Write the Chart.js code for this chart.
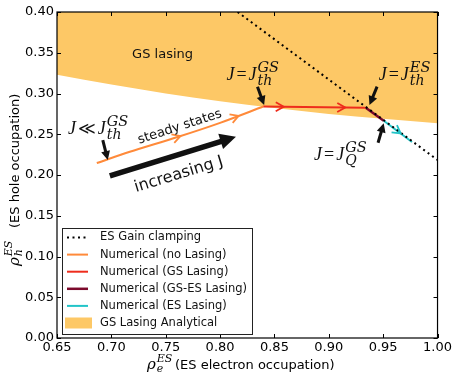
<!DOCTYPE html>
<html>
<head>
<meta charset="utf-8">
<script src="https://cdn.jsdelivr.net/npm/chart.js@4.4.0/dist/chart.umd.min.js"></script>
<style>
  body { margin: 0; background: #fff; }
  #wrap { width: 454px; height: 377px; }
</style>
</head>
<body>
<div id="wrap"><canvas id="grafico"></canvas></div>
<script>
// Eixos
const ticksX = [0.65, 0.70, 0.75, 0.80, 0.85, 0.90, 0.95, 1.00];
const ticksY = [0.00, 0.05, 0.10, 0.15, 0.20, 0.25, 0.30, 0.35, 0.40];

// Reta de clamping do ganho do ES
const clampingX = [0.8161, 1.00];
const clampingY = [0.400, 0.2184];

// Fronteira da regiao de laser do GS (analitico)
const fronteiraX = [0.65, 0.70, 0.75, 0.80, 0.85, 0.90, 0.95, 1.00];
const fronteiraY = [0.323, 0.311, 0.300, 0.2905, 0.2822, 0.2750, 0.2690, 0.2634];

// Estados estacionarios numericos
const semLaserX = [0.6866, 0.717, 0.7609, 0.80, 0.8397];
const semLaserY = [0.2147, 0.2285, 0.2466, 0.2640, 0.2840];
const laserGSX = [0.8397, 0.934];
const laserGSY = [0.2840, 0.2825];
const laserGSESX = [0.934, 0.9505];
const laserGSESY = [0.2825, 0.2665];
const laserESX = [0.9505, 0.9765];
const laserESY = [0.2665, 0.2405];

const pontos = (xs, ys) => xs.map((x, i) => ({ x: x, y: ys[i] }));

const SERIF = '"Liberation Serif", "DejaVu Serif", serif';
const SERIF_SCRIPT = '"DejaVu Serif", serif';
const SANS = '"DejaVu Sans", sans-serif';
const corFill = '#fdc866';

// escreve texto "matematico" simples (italico, sub/sobrescrito)
function escreveMath(ctx, x, y, tokens) {
    let pilha = 0;
    const x0 = x;
    tokens.forEach(tk => {
        if (tk.at !== undefined) x = x0 + tk.at;
        ctx.font = (tk.it ? 'italic ' : '') + tk.s + 'px ' + (tk.f || SERIF);
        ctx.fillText(tk.t, x, y + (tk.dy || 0));
        const w = ctx.measureText(tk.t).width + (tk.gap || 0);
        if (tk.stack) {
            pilha = w;
        } else {
            x += Math.max(w, pilha);
            pilha = 0;
        }
    });
    return x;
}

const J = (sub, sup, rel) => [
    { t: 'J', it: true, s: 18, gap: 2 },
    { t: rel, s: rel === '=' ? 18 : 17, f: rel === '=' ? SERIF : SANS, gap: 2 },
    { t: 'J', it: true, s: 18, gap: 1 },
    { t: sup, it: true, s: 14.5, f: SERIF_SCRIPT, dy: -8, stack: true },
    { t: sub, it: true, s: 14, f: SERIF_SCRIPT, dy: 5 }
];

// anotacoes em coordenadas de dados
const textosMath = [
    { x: 0.6601, y: 0.2503, tokens: J('th', 'GS', '\u226A') },
    { x: 0.8058, y: 0.3166, tokens: J('th', 'GS', '=') },
    { x: 0.9459, y: 0.3166, tokens: J('th', 'ES', '=') },
    { x: 0.8864, y: 0.2184, tokens: J('Q', 'GS', '=') }
];
const textos = [
    { x: 0.7471, y: 0.3472, txt: 'GS lasing', s: 13, ang: 0 },
    { x: 0.7630, y: 0.2590, txt: 'steady states', s: 13, ang: -18 },
    { x: 0.7620, y: 0.2005, txt: 'increasing J', s: 16, ang: -17 }
];
const setas = [
    { de: [0.6921, 0.2429], para: [0.6967, 0.2184], lw: 3, cab: 9 },
    { de: [0.8344, 0.3084], para: [0.8405, 0.2859], lw: 3, cab: 9 },
    { de: [0.9444, 0.3084], para: [0.9374, 0.2859], lw: 3, cab: 9 },
    { de: [0.9453, 0.2396], para: [0.9505, 0.2634], lw: 3, cab: 9 },
    { de: [0.6986, 0.1988], para: [0.8146, 0.2470], lw: 5.5, cab: 16 }
];

// pontas de seta abertas ao longo das curvas
const pontasPlugin = {
    id: 'pontas',
    afterDatasetsDraw(chart) {
        const ctx = chart.ctx;
        chart.data.datasets.forEach((ds, i) => {
            if (!ds.setasEm) return;
            const pts = chart.getDatasetMeta(i).data;
            const comp = [0];
            for (let k = 1; k < pts.length; k++) {
                comp.push(comp[k - 1] + Math.hypot(pts[k].x - pts[k - 1].x, pts[k].y - pts[k - 1].y));
            }
            const total = comp[comp.length - 1];
            ds.setasEm.forEach(f => {
                const alvo = f * total;
                let k = 1;
                while (k < pts.length - 1 && comp[k] < alvo) k++;
                const a = pts[k - 1], b = pts[k];
                const t = (alvo - comp[k - 1]) / (comp[k] - comp[k - 1]);
                const px = a.x + (b.x - a.x) * t, py = a.y + (b.y - a.y) * t;
                const ang = Math.atan2(b.y - a.y, b.x - a.x);
                ctx.save();
                ctx.translate(px, py);
                ctx.rotate(ang);
                ctx.strokeStyle = ds.borderColor;
                ctx.lineWidth = 1.8;
                ctx.beginPath();
                ctx.moveTo(-8, -4.5);
                ctx.lineTo(0, 0);
                ctx.lineTo(-8, 4.5);
                ctx.stroke();
                ctx.restore();
            });
        });
    }
};

// moldura e ticks para dentro nos quatro lados
const molduraPlugin = {
    id: 'moldura',
    afterDatasetsDraw(chart) {
        const ctx = chart.ctx;
        const a = chart.chartArea;
        const sx = chart.scales.x, sy = chart.scales.y;
        ctx.save();
        ctx.strokeStyle = '#000';
        ctx.lineWidth = 1;
        ctx.beginPath();
        ticksX.forEach(v => {
            const p = Math.round(sx.getPixelForValue(v)) + 0.5;
            ctx.moveTo(p, a.bottom); ctx.lineTo(p, a.bottom - 4);
            ctx.moveTo(p, a.top); ctx.lineTo(p, a.top + 4);
        });
        ticksY.forEach(v => {
            const p = Math.round(sy.getPixelForValue(v)) + 0.5;
            ctx.moveTo(a.left, p); ctx.lineTo(a.left + 4, p);
            ctx.moveTo(a.right, p); ctx.lineTo(a.right - 4, p);
        });
        ctx.stroke();
        ctx.lineWidth = 1.2;
        ctx.strokeRect(a.left, a.top, a.right - a.left, a.bottom - a.top);
        ctx.restore();
    }
};

// setas pretas, textos e titulos dos eixos
const anotacoesPlugin = {
    id: 'anotacoes',
    afterDraw(chart) {
        const ctx = chart.ctx;
        const sx = chart.scales.x, sy = chart.scales.y;
        const X = v => sx.getPixelForValue(v), Y = v => sy.getPixelForValue(v);
        ctx.save();
        ctx.fillStyle = '#111';
        ctx.strokeStyle = '#111';

        setas.forEach(s => {
            const x0 = X(s.de[0]), y0 = Y(s.de[1]), x1 = X(s.para[0]), y1 = Y(s.para[1]);
            const ang = Math.atan2(y1 - y0, x1 - x0);
            const L = Math.hypot(x1 - x0, y1 - y0);
            ctx.save();
            ctx.translate(x0, y0);
            ctx.rotate(ang);
            ctx.lineWidth = s.lw;
            ctx.beginPath();
            ctx.moveTo(0, 0);
            ctx.lineTo(L - s.cab * 0.8, 0);
            ctx.stroke();
            ctx.beginPath();
            ctx.moveTo(L, 0);
            ctx.lineTo(L - s.cab, -s.cab * 0.5);
            ctx.lineTo(L - s.cab, s.cab * 0.5);
            ctx.closePath();
            ctx.fill();
            ctx.restore();
        });

        ctx.textBaseline = 'alphabetic';
        ctx.textAlign = 'left';
        textosMath.forEach(m => escreveMath(ctx, X(m.x), Y(m.y), m.tokens));

        ctx.textAlign = 'center';
        ctx.textBaseline = 'middle';
        textos.forEach(t => {
            ctx.save();
            ctx.translate(X(t.x), Y(t.y));
            ctx.rotate(t.ang * Math.PI / 180);
            ctx.font = t.s + 'px ' + SANS;
            ctx.fillText(t.txt, 0, 0);
            ctx.restore();
        });

        // titulos dos eixos
        ctx.fillStyle = '#000';
        ctx.textAlign = 'left';
        ctx.textBaseline = 'alphabetic';
        const rho = (sub) => [
            { t: '\u03C1', it: true, s: 15, f: SERIF_SCRIPT, gap: 1 },
            { t: 'ES', it: true, s: 11, f: SERIF_SCRIPT, dy: -7, stack: true },
            { t: sub, it: true, s: 11, f: SERIF_SCRIPT, dy: 3 }
        ];
        escreveMath(ctx, 147, 369,
            rho('e').concat([{ t: '(ES electron occupation)', s: 13, f: SANS, at: 28 }]));
        ctx.save();
        ctx.translate(19, 266);
        ctx.rotate(-Math.PI / 2);
        escreveMath(ctx, 0, 0,
            rho('h').concat([{ t: '(ES hole occupation)', s: 13, f: SANS, at: 38 }]));
        ctx.restore();
        ctx.restore();
    }
};

// legenda dentro da area do grafico
const legendaPlugin = {
    id: 'legendaInterna',
    afterDraw(chart) {
        const ctx = chart.ctx;
        const a = chart.chartArea;
        const x0 = a.left + 5, w = 190, h = 106;
        const y0 = a.bottom - 4 - h;
        ctx.save();
        ctx.fillStyle = '#fff';
        ctx.fillRect(x0, y0, w, h);
        ctx.strokeStyle = '#222';
        ctx.lineWidth = 1;
        ctx.strokeRect(x0 + 0.5, y0 + 0.5, w, h);
        ctx.font = '11.5px ' + SANS;
        ctx.textBaseline = 'middle';
        chart.data.datasets.forEach((ds, i) => {
            const yy = y0 + 9.5 + i * 17.1;
            if (ds.fill) {
                ctx.fillStyle = ds.backgroundColor;
                ctx.fillRect(x0 + 3, yy - 5.5, 27, 11);
            } else {
                ctx.strokeStyle = ds.borderColor;
                ctx.lineWidth = ds.borderWidth;
                ctx.setLineDash(ds.borderDash || []);
                ctx.beginPath();
                ctx.moveTo(x0 + 5, yy);
                ctx.lineTo(x0 + 26, yy);
                ctx.stroke();
                ctx.setLineDash([]);
            }
            ctx.fillStyle = '#111';
            ctx.fillText(ds.label, x0 + 38, yy);
        });
        ctx.restore();
    }
};

new Chart(document.getElementById('grafico'), {
    type: 'scatter',
    data: {
        datasets: [
            {
                label: 'ES Gain clamping',
                data: pontos(clampingX, clampingY),
                showLine: true, borderColor: '#000', borderWidth: 2, borderDash: [2, 3.5]
            }, {
                label: 'Numerical (no Lasing)',
                data: pontos(semLaserX, semLaserY),
                showLine: true, borderColor: '#ff8a3a', borderWidth: 2, tension: 0.3,
                setasEm: [0.5, 0.85]
            }, {
                label: 'Numerical (GS Lasing)',
                data: pontos(laserGSX, laserGSY),
                showLine: true, borderColor: '#ee2c1c', borderWidth: 2,
                setasEm: [0.2, 0.8]
            }, {
                label: 'Numerical (GS-ES Lasing)',
                data: pontos(laserGSESX, laserGSESY),
                showLine: true, borderColor: '#7c0a2c', borderWidth: 2.5
            }, {
                label: 'Numerical (ES Lasing)',
                data: pontos(laserESX, laserESY),
                showLine: true, borderColor: '#22c4c8', borderWidth: 2,
                setasEm: [0.6]
            }, {
                label: 'GS Lasing Analytical',
                data: pontos(fronteiraX, fronteiraY),
                showLine: true, borderWidth: 0, borderColor: corFill,
                backgroundColor: corFill, fill: 'end', cubicInterpolationMode: 'monotone'
            }
        ]
    },
    options: {
        responsive: true,
        maintainAspectRatio: false,
        animation: false,
        layout: { padding: { top: 12, right: 15, left: 0, bottom: 0 } },
        elements: { point: { radius: 0, hoverRadius: 0 } },
        plugins: { legend: { display: false }, tooltip: { enabled: false } },
        scales: {
            x: {
                type: 'linear', min: 0.65, max: 1.0,
                grid: { display: false, drawTicks: false },
                border: { display: false },
                afterBuildTicks: s => { s.ticks = ticksX.map(v => ({ value: v })); },
                afterFit: s => { s.height = 39; },
                ticks: {
                    padding: 2, color: '#000', maxRotation: 0, autoSkip: false,
                    font: { family: 'DejaVu Sans', size: 13 },
                    callback: v => v.toFixed(2)
                }
            },
            y: {
                type: 'linear', min: 0, max: 0.4,
                grid: { display: false, drawTicks: false },
                border: { display: false },
                afterBuildTicks: s => { s.ticks = ticksY.map(v => ({ value: v })); },
                afterFit: s => { s.width = 57; },
                ticks: {
                    padding: 3, color: '#000', autoSkip: false,
                    font: { family: 'DejaVu Sans', size: 13 },
                    callback: v => v.toFixed(2)
                }
            }
        }
    },
    plugins: [pontasPlugin, molduraPlugin, anotacoesPlugin, legendaPlugin]
});
</script>
</body>
</html>
